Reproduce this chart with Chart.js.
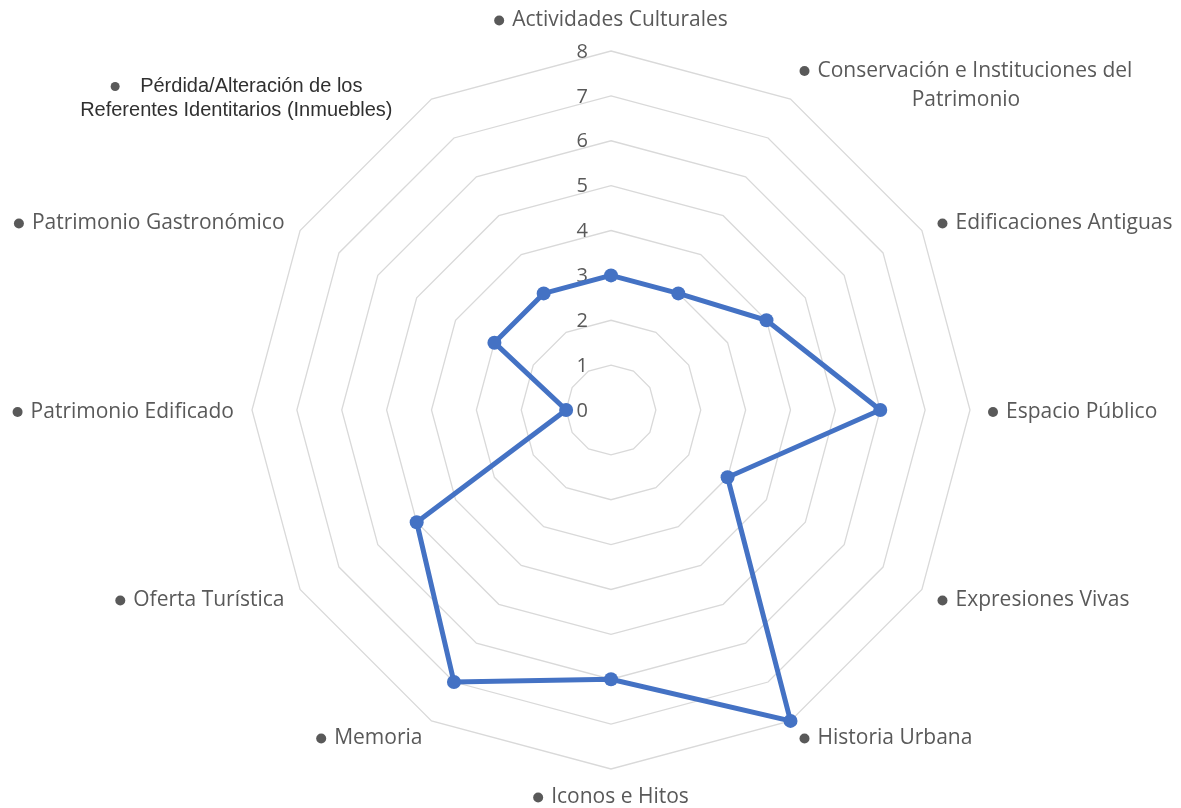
<!DOCTYPE html>
<html>
<head>
<meta charset="utf-8">
<script src="https://cdn.jsdelivr.net/npm/chart.js@4.4.0/dist/chart.umd.min.js"></script>
<style>
  html, body { margin: 0; padding: 0; background: #fff; }
  #wrap { width: 1181px; height: 808px; }
</style>
</head>
<body>
<div id="wrap"><canvas id="myChart"></canvas></div>
<script>
const categories = [
    'Actividades Culturales',
    ['Conservación e Instituciones del', 'Patrimonio'],
    'Edificaciones Antiguas',
    'Espacio Público',
    'Expresiones Vivas',
    'Historia Urbana',
    'Iconos e Hitos',
    'Memoria',
    'Oferta Turística',
    'Patrimonio Edificado',
    'Patrimonio Gastronómico',
    ['Pérdida/Alteración de los', 'Referentes Identitarios (Inmuebles)'],
];
const values = [3, 3, 4, 6, 3, 8, 6, 7, 5, 1, 3, 3];
const tickValues = [0, 1, 2, 3, 4, 5, 6, 7, 8];

// the last label was pasted in with another font in the original
const pastedIndex = 11;
const pastedShift = { x: -30, y: 13 };

const textGray = '#595959';

// tick numbers sit left of the vertical axis
const tickLabels = {
    id: 'tickLabels',
    beforeDatasetsDraw(chart) {
        const scale = chart.scales.r;
        const ctx = chart.ctx;
        ctx.save();
        ctx.font = '20px "Open Sans"';
        ctx.fillStyle = textGray;
        ctx.textAlign = 'right';
        ctx.textBaseline = 'middle';
        tickValues.forEach((v) => {
            const d = scale.getDistanceFromCenterForValue(v);
            ctx.fillText(String(v), scale.xCenter - 23, scale.yCenter - d + 1);
        });
        ctx.restore();
    },
};

// category labels with a bullet in front
const pointLabels = {
    id: 'pointLabels',
    afterDraw(chart) {
        const scale = chart.scales.r;
        const ctx = chart.ctx;
        ctx.save();
        chart.data.labels.forEach((label, i) => {
            const lines = Array.isArray(label) ? label : [label];
            const pasted = i === pastedIndex;
            ctx.font = pasted ? '20px "Liberation Sans"' : '21px "Open Sans"';
            const lineHeight = pasted ? 24 : 29;
            const bulletSpace = pasted ? 30 : 18;
            const widths = lines.map((l, j) => ctx.measureText(l).width + (j === 0 ? bulletSpace : 0));
            const blockW = Math.max(...widths);
            const blockH = lineHeight * lines.length;

            const p = scale.getPointPosition(i, scale.drawingArea + 18);
            const dx = p.x - scale.xCenter;
            let left;
            if (Math.abs(dx) < 1) left = p.x - blockW / 2;
            else if (dx > 0) left = p.x;
            else left = p.x - blockW;

            let top;
            if (Math.abs(dx) < 1 && p.y < scale.yCenter) top = p.y - blockH + 2;
            else if (Math.abs(dx) < 1) top = p.y - 4;
            else top = p.y - blockH / 2 + 2;

            if (pasted) {
                left += pastedShift.x;
                top += pastedShift.y;
            }

            ctx.textBaseline = 'middle';
            ctx.textAlign = 'left';
            lines.forEach((l, j) => {
                const w = widths[j];
                const x0 = left + (blockW - w) / 2;
                const y = top + lineHeight * j + lineHeight / 2;
                let tx = x0;
                if (j === 0) {
                    ctx.fillStyle = textGray;
                    ctx.beginPath();
                    ctx.arc(x0 + 5, y, pasted ? 4.5 : 5, 0, Math.PI * 2);
                    ctx.fill();
                    tx = x0 + bulletSpace;
                }
                ctx.fillStyle = pasted ? '#303030' : textGray;
                ctx.fillText(l, tx, y);
            });
        });
        ctx.restore();
    },
};

const ctx = document.getElementById('myChart').getContext('2d');
const myChart = new Chart(ctx, {
    type: 'radar',
    data: {
        labels: categories,
        datasets: [
            {
                label: 'Serie 1',
                data: values,
                borderColor: '#4472c4',
                backgroundColor: '#4472c4',
                borderWidth: 5,
                pointRadius: 7,
                pointBorderWidth: 0,
                pointBackgroundColor: '#4472c4',
                fill: false,
                tension: 0,
            },
        ],
    },
    options: {
        responsive: true,
        maintainAspectRatio: false,
        animation: false,
        layout: {
            padding: { top: 51, bottom: 39, left: 41, right: 0 },
        },
        scales: {
            r: {
                min: 0,
                max: 8,
                beginAtZero: true,
                ticks: { stepSize: 1, display: false },
                grid: { color: '#d9d9d9', lineWidth: 1.3 },
                angleLines: { display: false },
                pointLabels: { display: false },
            },
        },
        plugins: {
            legend: { display: false },
            tooltip: { enabled: false },
        },
    },
    plugins: [tickLabels, pointLabels],
});
</script>
</body>
</html>
